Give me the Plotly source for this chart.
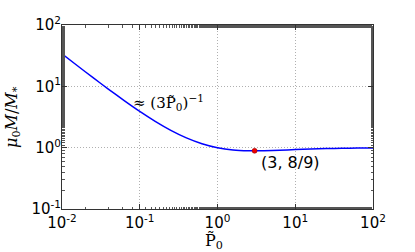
import plotly.graph_objects as go

# Data
p0 = [0.01, 0.0158, 0.0251, 0.0398, 0.0631, 0.1, 0.158, 0.251, 0.398, 0.631,
      1.0, 1.585, 2.512, 3.0, 3.98, 6.31, 10.0, 15.85, 25.1, 39.8, 63.1, 100.0]
mass = [33.89, 21.65, 13.84, 8.94, 5.85, 3.90, 2.688, 1.918, 1.445, 1.161,
        1.0, 0.9195, 0.8908, 0.8889, 0.8927, 0.9096, 0.9308, 0.9503, 0.9658, 0.9772, 0.9851, 0.9904]
min_x = [3.0]
min_y = [8 / 9]
x_ticks = [0.01, 0.1, 1, 10, 100]
x_ticklabels = ["10<sup>-2</sup>", "10<sup>-1</sup>", "10<sup>0</sup>", "10<sup>1</sup>", "10<sup>2</sup>"]
y_ticks = [0.1, 1, 10, 100]
y_ticklabels = ["10<sup>-1</sup>", "10<sup>0</sup>", "10<sup>1</sup>", "10<sup>2</sup>"]

fig = go.Figure()
fig.add_trace(go.Scatter(x=p0, y=mass, mode="lines",
                         line=dict(color="#0000ff", width=1.5, shape="spline", smoothing=0.8),
                         showlegend=False))
fig.add_trace(go.Scatter(x=min_x, y=min_y, mode="markers",
                         marker=dict(color="#ee0000", size=5, line=dict(color="#880000", width=0.5)),
                         showlegend=False))

axis_common = dict(
    type="log", showline=True, linecolor="#333", linewidth=1, mirror="ticks",
    ticks="inside", ticklen=5, tickcolor="#333",
    showgrid=True, gridcolor="#b0b0b0", griddash="1px,2px", gridwidth=1,
    zeroline=False, automargin=False,
    tickfont=dict(family="DejaVu Sans", size=15, color="black"),
    minor=dict(ticks="inside", ticklen=2.5, tickcolor="#555", showgrid=False),
)

fig.update_layout(
    width=415, height=252,
    margin=dict(l=62, r=42, t=25, b=43),
    paper_bgcolor="white", plot_bgcolor="white",
    font=dict(family="DejaVu Sans", size=15, color="black"),
    xaxis=dict(axis_common, range=[-2, 2], tickvals=x_ticks, ticktext=x_ticklabels),
    yaxis=dict(axis_common, range=[-1, 2], tickvals=y_ticks, ticktext=y_ticklabels,
               ticklabelstandoff=-3),
    annotations=[
        dict(x=-1.11, y=0.74, xref="x", yref="y", text="≈ (3P\u0303<sub>0</sub>)<sup>−1</sup>",
             showarrow=False, xanchor="left", yanchor="middle",
             font=dict(family="DejaVu Serif", size=15)),
        dict(x=0.534, y=-0.246, xref="x", yref="y", text="(3, 8/9)",
             showarrow=False, xanchor="left", yanchor="middle",
             font=dict(family="DejaVu Sans", size=16)),
        dict(x=0.5, y=0, xref="paper", yref="paper", text="P\u0303<sub>0</sub>",
             showarrow=False, xanchor="center", yanchor="middle", xshift=-4, yshift=-32,
             font=dict(family="DejaVu Serif", size=16)),
        dict(x=0, y=0.5, xref="paper", yref="paper",
             text="<i>μ</i><sub>0</sub><i>M</i>/<i>M</i><sub>*</sub>",
             showarrow=False, xanchor="center", yanchor="middle", xshift=-50, textangle=-90,
             font=dict(family="DejaVu Serif", size=16)),
    ],
)

fig.write_html("out.html", config={"displayModeBar": False},
               post_script="document.body.style.margin='0';")
